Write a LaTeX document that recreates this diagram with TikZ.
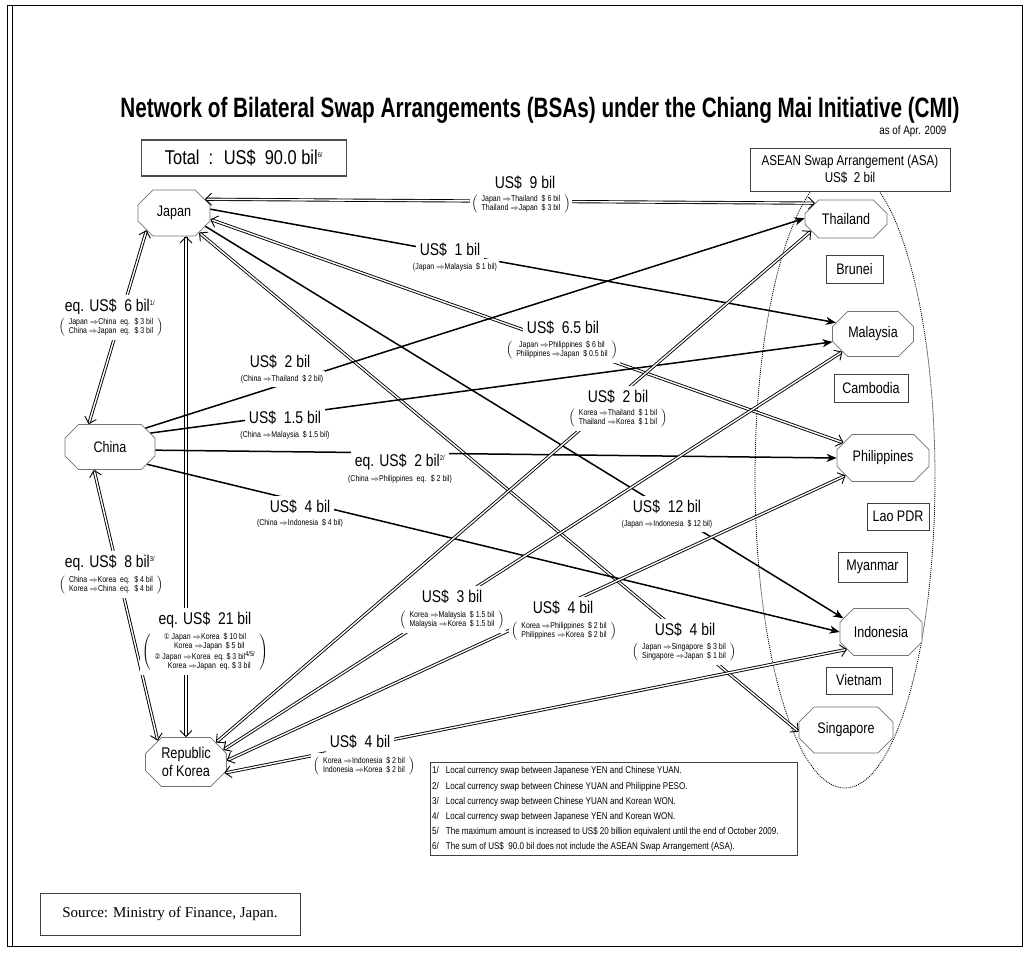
\documentclass[tikz,border=0pt]{standalone}
\usepackage{fontspec}
\setmainfont{Liberation Sans}[FakeStretch=0.82]
\newfontfamily\serifface{Liberation Serif}
\newfontfamily\dvs{DejaVu Sans}[FakeStretch=0.82]
\newfontfamily\titlefont{Liberation Sans}[FakeStretch=0.74]
\usetikzlibrary{shapes.misc,arrows.meta,calc}
\pgfdeclarelayer{bg}
\pgfsetlayers{bg,main}
\newcommand{\myra}{\ensuremath{\Rightarrow}}
\newcommand{\pb}[1]{$\left(\hspace{4pt}\vcenter{\hbox{\begin{tabular}{@{}c@{}}#1\end{tabular}}}\hspace{4pt}\right)$}
\newcommand{\fnm}[1]{\textsuperscript{\fontsize{7}{7}\selectfont #1}}
\begin{document}
\begin{tikzpicture}[x=1pt,y=-1pt,
  oct/.style={chamfered rectangle, chamfered rectangle xsep=8pt, chamfered rectangle ysep=8pt, draw=black!55, line width=0.7pt, fill=white, inner sep=0pt, font=\fontsize{15.3}{17}\selectfont},
  box/.style={draw=black!75, line width=0.8pt, fill=white, inner sep=0pt, font=\fontsize{15.3}{17}\selectfont},
  one/.style={line width=1.5pt, -{Stealth[length=10pt,width=8pt,inset=3pt]}},
  two/.style={double=white, double distance=1.4pt, line width=0.9pt, {Straight Barb[length=6pt,width=12pt]}-{Straight Barb[length=6pt,width=12pt]}},
  lab/.style={fill=white, inner xsep=4pt, inner ysep=4pt, font=\fontsize{17}{19}\selectfont},
  sub/.style={fill=white, inner xsep=2pt, inner ysep=3.5pt, font=\fontsize{8.5}{9.3}\selectfont},
]
\useasboundingbox (0,0) rectangle (1028,953);
% frame
\draw[line width=0.9pt] (7,5) rectangle (1022,946);
\draw[line width=0.9pt] (12,5) -- (12,946);

% title
\node[font=\titlefont\bfseries\fontsize{28}{30}\selectfont] (title) at (540,110) {Network of Bilateral Swap Arrangements (BSAs) under the Chiang Mai Initiative (CMI)};
\node[font=\fontsize{12}{13}\selectfont, anchor=east] (asof) at (950,131) {as of Apr. 2009};
\node[draw=black!70, line width=1.2pt, minimum width=205pt, minimum height=36pt, font=\fontsize{20}{22}\selectfont] (total) at (244,158) {Total \ : \ US\$ \ 90.0 bil\fnm{6/}};

% ASEAN ellipse
\begin{pgfonlayer}{bg}
\draw[line width=0.8pt, dash pattern=on 1pt off 1pt] (845,478) ellipse [x radius=90, y radius=310];
\end{pgfonlayer}

% main nodes
\node[oct, minimum width=72pt, minimum height=46pt] (japan) at (174,213) {Japan};
\node[oct, minimum width=90pt, minimum height=45pt] (china) at (110,447) {China};
\node[oct, minimum width=81pt, minimum height=49pt, align=center, font=\fontsize{15.5}{18}\selectfont] (korea) at (186,762) {Republic\\of Korea};
\node[oct, minimum width=82pt, minimum height=38pt] (thailand) at (846,219) {Thailand};
\node[oct, minimum width=81pt, minimum height=45pt] (malaysia) at (873,334) {Malaysia};
\node[oct, minimum width=92pt, minimum height=47pt] (philippines) at (883,458) {Philippines};
\node[oct, minimum width=82pt, minimum height=47pt] (indonesia) at (881,632) {Indonesia};
\node[oct, minimum width=94pt, minimum height=46pt] (singapore) at (846,730) {Singapore};

\node[box, minimum width=57pt, minimum height=28pt] (brunei) at (854.5,269) {Brunei};
\node[box, minimum width=74pt, minimum height=28pt] (cambodia) at (871,388) {Cambodia};
\node[box, minimum width=62pt, minimum height=27pt] (lao) at (898,516.5) {Lao PDR};
\node[box, minimum width=69pt, minimum height=30pt] (myanmar) at (872.5,567) {Myanmar};
\node[box, minimum width=66pt, minimum height=27pt] (vietnam) at (859,680.5) {Vietnam};
\node[box, minimum width=200pt, minimum height=43pt, align=center, font=\fontsize{14.2}{17}\selectfont] (asa) at (850,169.5) {ASEAN Swap Arrangement (ASA)\\US\$ \ 2 bil};

% connectors
\coordinate (jk) at (186,0);
\draw[two] (japan.24) -- (thailand.153);
\draw[one] (japan.6) -- (malaysia.163);
\draw[two] (japan.-10) -- (philippines.159);
\draw[one] (japan.-23) -- (indonesia.160);
\draw[two] (japan.-38) -- (singapore.182);
\draw[two] (japan.212) -- (china.133);
\draw[two] (japan.south -| jk) -- (korea.north -| jk);
\draw[two] (china.235) -- (korea.143);
\draw[one] (china.28) -- (thailand.179);
\draw[one] (china.19) -- (malaysia.191);
\draw[one] (china.-4) -- (philippines.west);
\draw[one] (china.-25) -- (indonesia.180);
\draw[two] (korea.33) -- (thailand.199);
\draw[two] (korea.18) -- (malaysia.210);
\draw[two] (korea.2.5) -- (philippines.205);
\draw[two] (korea.-16) -- (indonesia.207);

% labels
\node[lab] (l9) at (525,183) {US\$ \ 9 bil};
\node[sub] (s9) at (521,204) {\pb{Japan \myra Thailand \ \$ 6 bil\\Thailand \myra Japan \ \$ 3 bil}};
\node[lab] (l1) at (450,250) {US\$ \ 1 bil};
\node[sub] (s1) at (455,267) {(Japan \myra Malaysia \ \$ 1 bil)};
\node[lab] (l6) at (110,307) {eq. US\$ \ 6 bil\fnm{1/}};
\node[sub] (s6) at (111,327) {\pb{Japan \myra China \ eq. \ \$ 3 bil\\China \myra Japan \ eq. \ \$ 3 bil}};
\node[lab] (l2t) at (280,362) {US\$ \ 2 bil};
\node[sub] (s2t) at (282,379) {(China \myra Thailand \ \$ 2 bil)};
\node[lab] (l15) at (285,418) {US\$ \ 1.5 bil};
\node[sub] (s15) at (285,435) {(China \myra Malaysia \ \$ 1.5 bil)};
\node[lab] (l2p) at (400,462) {eq. US\$ \ 2 bil\fnm{2/}};
\node[sub] (s2p) at (400,479) {(China \myra Philippines \ eq. \ \$ 2 bil)};
\node[lab] (l4i) at (300,507) {US\$ \ 4 bil};
\node[sub] (s4i) at (300,523) {(China \myra Indonesia \ \$ 4 bil)};
\node[lab] (l65) at (563,328) {US\$ \ 6.5 bil};
\node[sub] (s65) at (562,350) {\pb{Japan \myra Philippines \ \$ 6 bil\\Philippines \myra Japan \ \$ 0.5 bil}};
\node[lab] (l2k) at (618,397) {US\$ \ 2 bil};
\node[sub] (s2k) at (618,418) {\pb{Korea \myra Thailand \ \$ 1 bil\\Thailand \myra Korea \ \$ 1 bil}};
\node[lab] (l12) at (667,507) {US\$ \ 12 bil};
\node[sub] (s12) at (667,524) {(Japan \myra Indonesia \ \$ 12 bil)};
\node[lab] (l8) at (110,563) {eq. US\$ \ 8 bil\fnm{3/}};
\node[sub] (s8) at (111,585) {\pb{China \myra Korea \ eq. \ \$ 4 bil\\Korea \myra China \ eq. \ \$ 4 bil}};
\node[lab] (l21) at (205,620) {eq. US\$ \ 21 bil};
\node[sub] (s21) at (205,652) {\pb{{\dvs\fontsize{8}{9}\selectfont ①} Japan \myra Korea \ \$ 10 bil\\ \quad Korea \myra Japan \ \$ 5 bil\\{\dvs\fontsize{8}{9}\selectfont ②} Japan \myra Korea \ eq. \$ 3 bil\fnm{4/5/}\\ \quad Korea \myra Japan \ eq. \$ 3 bil}};
\node[lab] (l3) at (452,597) {US\$ \ 3 bil};
\node[sub] (s3) at (452,620) {\pb{Korea \myra Malaysia \ \$ 1.5 bil\\Malaysia \myra Korea \ \$ 1.5 bil}};
\node[lab] (l4p) at (563,608) {US\$ \ 4 bil};
\node[sub] (s4p) at (564,631) {\pb{Korea \myra Philippines \ \$ 2 bil\\Philippines \myra Korea \ \$ 2 bil}};
\node[lab] (l4s) at (685,630) {US\$ \ 4 bil};
\node[sub] (s4s) at (684,652) {\pb{Japan \myra Singapore \ \$ 3 bil\\Singapore \myra Japan \ \$ 1 bil}};
\node[lab] (l4k) at (360,742) {US\$ \ 4 bil};
\node[sub] (s4k) at (364,766) {\pb{Korea \myra Indonesia \ \$ 2 bil\\Indonesia \myra Korea \ \$ 2 bil}};

% footnotes
\node[draw=black!75, line width=0.8pt, anchor=north west, minimum width=367pt, minimum height=93pt, inner sep=0pt] (notes) at (430,762) {};
\node[anchor=north west, inner sep=0pt, font=\fontsize{9.8}{15.2}\selectfont] (notetext) at (432,763) {\begin{tabular}{@{}l@{\hspace{7pt}}l@{}}
1/ & Local currency swap between Japanese YEN and Chinese YUAN.\\
2/ & Local currency swap between Chinese YUAN and Philippine PESO.\\
3/ & Local currency swap between Chinese YUAN and Korean WON.\\
4/ & Local currency swap between Japanese YEN and Korean WON.\\
5/ & The maximum amount is increased to US\$ 20 billion equivalent until the end of October 2009.\\
6/ & The sum of US\$ \ 90.0 bil does not include the ASEAN Swap Arrangement (ASA).
\end{tabular}};

% source
\node[draw=black!75, line width=0.8pt, minimum width=260pt, minimum height=42pt, font=\serifface\fontsize{15}{17}\selectfont] (src) at (170,914) {Source: Ministry of Finance, Japan.};
\end{tikzpicture}
\end{document}
